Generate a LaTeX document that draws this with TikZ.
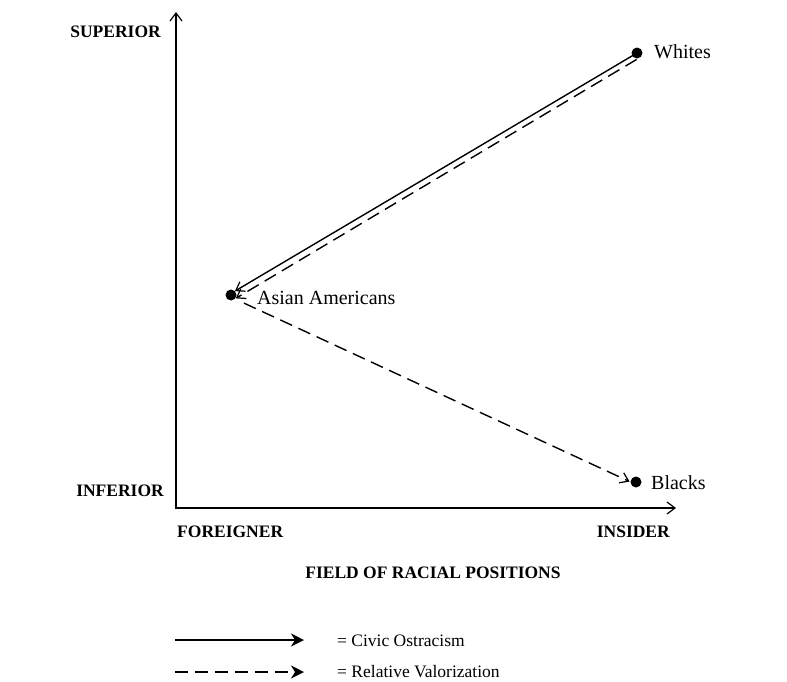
\documentclass[tikz,border=0pt]{standalone}
\usepackage{fontspec}
\setmainfont{Liberation Serif}
\usetikzlibrary{arrows.meta}
\begin{document}
\begin{tikzpicture}[x=1pt,y=-1pt,
  axislbl/.style={font=\fontsize{17.5}{20}\selectfont\bfseries, inner sep=0pt},
  grplbl/.style={font=\fontsize{20}{24}\selectfont, inner sep=0pt, anchor=west},
  leglbl/.style={font=\fontsize{17.5}{20}\selectfont, inner sep=0pt, anchor=west},
  dot/.style={circle, fill=black, minimum size=11pt, inner sep=0pt, outer sep=0pt},
  axisline/.style={line width=1.4pt, {Straight Barb[length=8pt,width=12pt,line width=1.2pt]}-{Straight Barb[length=8pt,width=12pt,line width=1.2pt]}},
  civic/.style={line width=1.4pt, -{Straight Barb[length=8pt,width=11pt,line width=1.2pt]}},
  valor/.style={line width=1.4pt, dash pattern=on 13pt off 7pt, -{Straight Barb[length=8pt,width=11pt,line width=1.2pt]}},
  legcivic/.style={line width=1.4pt, -{Stealth[length=13pt,width=13pt,inset=4pt]}},
  legvalor/.style={line width=1.4pt, dash pattern=on 13pt off 7pt, -{Stealth[length=13pt,width=13pt,inset=4pt]}}
]
\useasboundingbox (0,0) rectangle (787,681);
% axes
\coordinate (Y) at (176,12);
\coordinate (O) at (176,508);
\coordinate (X) at (676,508);
\draw[axisline] (Y) -- (O) -- (X);
% axis labels
\node[axislbl, anchor=east] (sup) at (161,32) {SUPERIOR};
\node[axislbl, anchor=east] (inf) at (164,491) {INFERIOR};
\node[axislbl, anchor=west] (for) at (177,532) {FOREIGNER};
\node[axislbl, anchor=east] (ins) at (670,532) {INSIDER};
\node[axislbl] (field) at (433,573) {FIELD OF RACIAL POSITIONS};
% groups
\node[dot] (W) at (637,53) {};
\node[dot] (A) at (231,295) {};
\node[dot] (B) at (636,482) {};
\node[grplbl] (Wl) at (654,52) {Whites};
\node[grplbl] (Al) at (257,298) {Asian Americans};
\node[grplbl] (Bl) at (651,483) {Blacks};
% connectors
\draw[civic] (W.center) -- (A.north east);
\draw[valor, shorten <=5pt, shorten >=1pt] (W.south east) -- (A.south east);
\draw[valor, shorten <=10pt, shorten >=1pt] (A.south east) -- (B.west);
% legend
\coordinate (L1a) at (175,640);
\coordinate (L1b) at (304,640);
\coordinate (L2a) at (175,672);
\coordinate (L2b) at (304,672);
\draw[legcivic] (L1a) -- (L1b);
\draw[legvalor] (L2a) -- (L2b);
\node[leglbl] (c1) at (337,641) {= Civic Ostracism};
\node[leglbl] (c2) at (337,672) {= Relative Valorization};
\end{tikzpicture}
\end{document}
